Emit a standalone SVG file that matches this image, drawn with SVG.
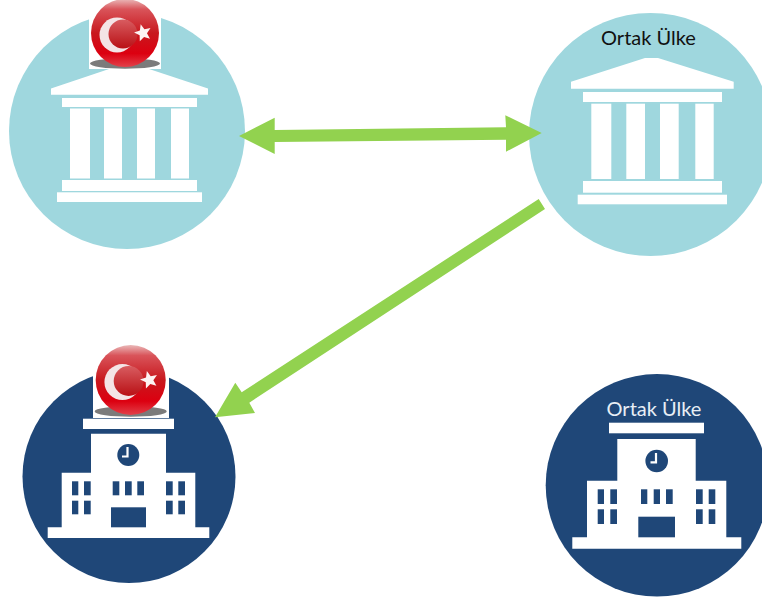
<svg xmlns="http://www.w3.org/2000/svg" width="762" height="598" viewBox="0 0 762 598">
<style>
.bank{fill:#9fd7de}
.school{fill:#1f4778}
.w{fill:#fff}
.win{fill:#1f4778}
.arrow{fill:#92d24f}
.label{font-family:"Lato","Open Sans",sans-serif;font-size:20px;text-anchor:middle}
</style>
<defs>
<linearGradient id="ballG" x1="0" y1="0" x2="0" y2="1">
<stop offset="0" stop-color="#eab9b9"/><stop offset="0.15" stop-color="#d9545a"/><stop offset="0.5" stop-color="#c8181e"/><stop offset="0.8" stop-color="#dc0010"/><stop offset="1" stop-color="#e2404a"/>
</linearGradient>
<linearGradient id="innerG" x1="0" y1="0" x2="0" y2="1">
<stop offset="0" stop-color="#d85c60"/><stop offset="1" stop-color="#b91015"/>
</linearGradient>
<g id="flag">
<ellipse cx="0" cy="30.5" rx="35" ry="5.2" fill="#7b7b7b"/>
<circle r="34" fill="url(#ballG)"/>
<circle cx="-8" cy="2" r="17.5" fill="#f4e4e6"/>
<circle cx="-2" cy="1" r="14.5" fill="url(#innerG)"/>
<polygon transform="translate(18,0) rotate(-15) scale(1.12)" fill="#fdf3f3" points="0,-8 2.1,-2.9 7.6,-2.47 3.4,1.1 4.7,6.47 0,3.6 -4.7,6.47 -3.4,1.1 -7.6,-2.47 -2.1,-2.9"/>
</g>
</defs>
<rect width="762" height="598" fill="#fff"/>
<g id="bank-turkey">
<circle class="bank" cx="127" cy="131" r="118"/>
<polygon class="w" points="51,88.5 118,66 140,66 208,88.5 208,94.7 51,94.7"/>
<rect class="w" x="62" y="98" width="135" height="9"/>
<rect class="w" x="70" y="108.5" width="20" height="70"/>
<rect class="w" x="104" y="108.5" width="18" height="70"/>
<rect class="w" x="137" y="108.5" width="18" height="70"/>
<rect class="w" x="171" y="108.5" width="18" height="70"/>
<rect class="w" x="62" y="180" width="135" height="11"/>
<rect class="w" x="57" y="192.3" width="145" height="9.7"/>
<rect class="w" x="89" y="0" width="72" height="69"/>
<use href="#flag" transform="translate(125,33)"/>
</g>
<g id="bank-partner">
<circle class="bank" cx="650.5" cy="134.5" r="121.5"/>
<polygon class="w" points="571,81.7 645,58 658,58 733.7,81.7 733.7,88.7 571,88.7"/>
<rect class="w" x="583" y="92" width="139" height="10"/>
<rect class="w" x="591.3" y="103.7" width="20" height="75.3"/>
<rect class="w" x="626.3" y="103.7" width="18.7" height="75.3"/>
<rect class="w" x="660" y="103.7" width="18.7" height="75.3"/>
<rect class="w" x="695.3" y="103.7" width="18.4" height="75.3"/>
<rect class="w" x="583" y="181" width="139" height="11.7"/>
<rect class="w" x="577.7" y="194.7" width="149.3" height="9.6"/>
<text class="label" x="648.5" y="44.5" fill="#111">Ortak Ülke</text>
</g>
<g id="school-turkey">
<circle class="school" cx="129" cy="476.5" r="106.5"/>
<rect class="w" x="83" y="418.7" width="91" height="10.3"/>
<path class="w" d="M91,433.7H166V472.7H195.3V527.3H209.3V538H47.7V527.3H61.7V472.7H91Z"/>
<circle class="win" cx="128.3" cy="455" r="11"/>
<path d="M127.5,447V456.5H122" fill="none" stroke="#fff" stroke-width="2.2"/>
<rect class="win" x="72" y="481.3" width="6.3" height="14"/><rect class="win" x="84" y="481.3" width="6.7" height="14"/>
<rect class="win" x="72" y="500.7" width="6.3" height="13.6"/><rect class="win" x="84" y="500.7" width="6.7" height="13.6"/>
<rect class="win" x="112.7" y="481.3" width="6.6" height="14"/><rect class="win" x="125" y="481.3" width="6.7" height="14"/><rect class="win" x="137.3" y="481.3" width="6.7" height="14"/>
<rect class="win" x="166" y="481.3" width="6.7" height="14"/><rect class="win" x="178.3" y="481.3" width="6.7" height="14"/>
<rect class="win" x="166" y="500.7" width="6.7" height="13.6"/><rect class="win" x="178.3" y="500.7" width="6.7" height="13.6"/>
<rect class="win" x="111" y="507.3" width="35" height="20"/>
<rect class="w" x="93" y="345" width="76" height="73"/>
<use href="#flag" transform="translate(130.7,380) scale(1.03)"/>
</g>
<g id="school-partner">
<circle class="school" cx="657" cy="485.3" r="111.3"/>
<rect class="w" x="609" y="422.7" width="95" height="10.6"/>
<path class="w" d="M617.3,439H695.7V480.7H726.3V537.3H741.3V548.7H572.3V537.3H587V480.7H617.3Z"/>
<circle class="win" cx="656.7" cy="461" r="11.3"/>
<path d="M656,453V462.3H650.5" fill="none" stroke="#fff" stroke-width="2.2"/>
<rect class="win" x="597.7" y="489.3" width="6.3" height="14.7"/><rect class="win" x="610.3" y="489.3" width="6.7" height="14.7"/>
<rect class="win" x="597.7" y="509.3" width="6.3" height="14.7"/><rect class="win" x="610.3" y="509.3" width="6.7" height="14.7"/>
<rect class="win" x="641" y="489.3" width="6.3" height="14.7"/><rect class="win" x="653.7" y="489.3" width="6.3" height="14.7"/><rect class="win" x="666" y="489.3" width="6.7" height="14.7"/>
<rect class="win" x="696" y="489.3" width="6.7" height="14.7"/><rect class="win" x="708.7" y="489.3" width="6.6" height="14.7"/>
<rect class="win" x="696" y="509.3" width="6.7" height="14.7"/><rect class="win" x="708.7" y="509.3" width="6.6" height="14.7"/>
<rect class="win" x="638.3" y="516.7" width="36.7" height="20.6"/>
<text class="label" x="654" y="416" fill="#e8eef5">Ortak Ülke</text>
</g>
<g id="connectors">
<polygon class="arrow" points="239,136 274.7,117.7 274.7,130 506,127.3 505.3,115.3 541.7,133 506,151.7 506,139.7 274.7,142 274.7,154"/>
<polygon class="arrow" points="538.7,199 545,209 249.3,402.7 255,413 215,417.3 235.3,382.7 241.7,392.3"/>
</g>
</svg>
